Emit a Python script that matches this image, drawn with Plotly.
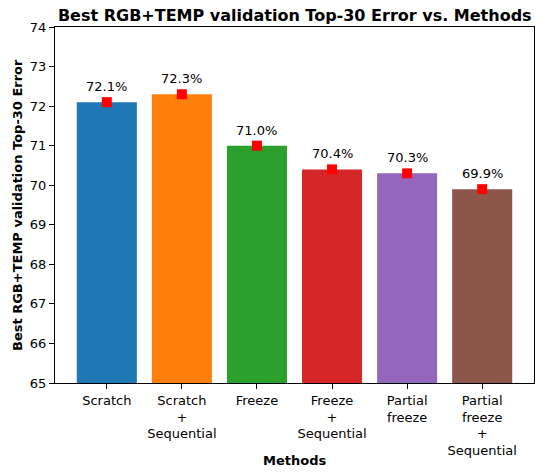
import plotly.graph_objects as go

methods = ["Scratch", "Scratch<br>+<br>Sequential", "Freeze", "Freeze<br>+<br>Sequential",
           "Partial<br>freeze", "Partial<br>freeze<br>+<br>Sequential"]
errors = [72.1, 72.3, 71.0, 70.4, 70.3, 69.9]
colors = ["#1f77b4", "#ff7f0e", "#2ca02c", "#d62728", "#9467bd", "#8c564b"]
y_ticks = [65, 66, 67, 68, 69, 70, 71, 72, 73, 74]
y_base = 65

xs = list(range(len(methods)))

fig = go.Figure()
fig.add_trace(go.Bar(
    x=xs, y=[e - y_base for e in errors], base=y_base, marker_color=colors, width=0.8,
    marker_line_width=0, showlegend=False, hoverinfo="skip"))
fig.add_trace(go.Scatter(
    x=xs, y=errors, mode="markers",
    marker=dict(symbol="square", color="red", size=10, line_width=0),
    showlegend=False))

for x, e in zip(xs, errors):
    fig.add_annotation(x=x, y=e, xref="x", yref="y", text=f"{e:.1f}%",
                       showarrow=False, yanchor="bottom", yshift=6,
                       font=dict(size=13, color="black"))

# axis titles
fig.add_annotation(x=0.5, y=-0.219, xref="paper", yref="paper", text="<b>Methods</b>",
                   showarrow=False, xanchor="center", yanchor="middle", font=dict(size=13))
fig.add_annotation(x=-0.0793, y=0.5, xref="paper", yref="paper",
                   text="<b>Best RGB+TEMP validation Top-30 Error</b>",
                   showarrow=False, textangle=-90, xanchor="center", yanchor="middle",
                   font=dict(size=13))

fig.update_layout(
    width=535, height=472,
    margin=dict(l=55, r=1, t=27, b=89, autoexpand=False),
    plot_bgcolor="white", paper_bgcolor="white",
    font=dict(family="DejaVu Sans", size=13, color="black"),
    title=dict(text="<b>Best RGB+TEMP validation Top-30 Error vs. Methods</b>",
               x=0.551, xanchor="center", y=0.98, yanchor="top",
               font=dict(size=16)),
)
fig.update_xaxes(
    range=[-0.69, 5.69], tickvals=xs, ticktext=methods, automargin=False,
    showline=True, linecolor="black", linewidth=1, mirror=True,
    ticks="outside", ticklen=5, tickcolor="black", showgrid=False,
    zeroline=False)
fig.update_yaxes(
    range=[65, 74], tickvals=y_ticks, automargin=False,
    showline=True, linecolor="black", linewidth=1, mirror=True,
    ticks="outside", ticklen=5, tickcolor="black", showgrid=False,
    zeroline=False)

fig.write_html("out.html", config={"displayModeBar": False},
               post_script="document.body.style.margin='0';document.body.style.overflow='hidden';")
